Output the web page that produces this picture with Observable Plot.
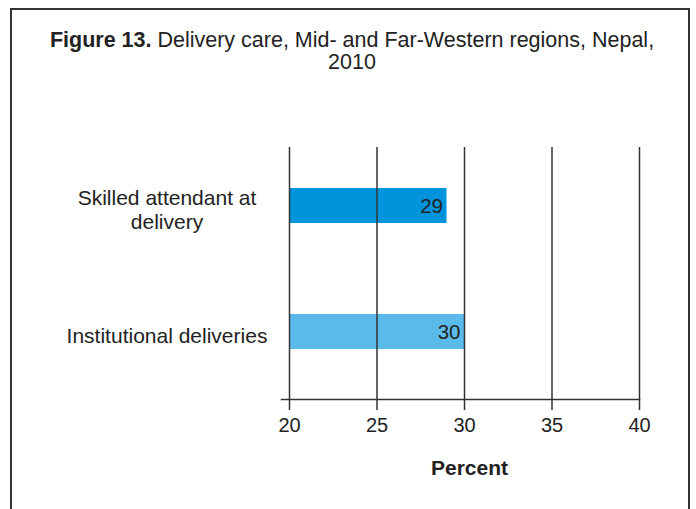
<!DOCTYPE html>
<html>
<head>
<meta charset="utf-8">
<script src="https://cdn.jsdelivr.net/npm/d3@7"></script>
<script src="https://cdn.jsdelivr.net/npm/@observablehq/plot@0.6"></script>
<style>
  html, body { margin: 0; padding: 0; background: #fff; }
  body { width: 696px; height: 509px; position: relative; overflow: hidden; font-family: "Liberation Sans", Arial, sans-serif; }
  #frame { position: absolute; left: 10px; top: 8px; width: 680px; height: 530px; border: 2px solid #333; border-bottom: none; box-sizing: border-box; }
  #title { position: absolute; left: 0; top: 29px; width: 704px; text-align: center; font-size: 21.5px; line-height: 22px; color: #222; }
  #title b { font-weight: bold; }
  #chart { position: absolute; left: 0; top: 85px; }
</style>
</head>
<body>
<div id="frame"></div>
<div id="title"><b>Figure 13.</b> Delivery care, Mid- and Far-Western regions, Nepal,<br>2010</div>
<div id="chart"></div>
<script>
const categories = ["Skilled attendant at\ndelivery", "Institutional deliveries"];
const values = [29, 30];
const colors = ["#0094DC", "#5ABAEA"];
const xTicks = [20, 25, 30, 35, 40];
const xLabel = "Percent";

const data = categories.map((c, i) => ({category: c, value: values[i], color: colors[i]}));
const base = xTicks[0];

const chart = Plot.plot({
  width: 696,
  height: 424,
  marginTop: 62,
  marginBottom: 110,
  marginLeft: 281,
  marginRight: 57,
  style: {fontFamily: "'Liberation Sans', Arial, sans-serif", color: "#222", background: "transparent"},
  x: {domain: [xTicks[0], xTicks[xTicks.length - 1]], insetLeft: 8},
  y: {domain: categories, paddingInner: 0.72, paddingOuter: 0.354, align: 0.456},
  marks: [
    Plot.barX(data, {y: "category", x1: () => base, x2: "value", fill: "color"}),
    Plot.gridX(xTicks, {stroke: "#333", strokeOpacity: 1, strokeWidth: 1.5}),
    Plot.frame({anchor: "bottom", stroke: "#333", strokeWidth: 1.5}),
    Plot.axisX({ticks: xTicks, tickSize: 11, tickPadding: 7, fontSize: 20, stroke: "#333", strokeWidth: 1.5, label: null, tickFormat: d => String(d)}),
    Plot.axisY({tickSize: 0, tickPadding: 0, textAnchor: "middle", dx: -114.5, dy: 3, fontSize: 21, lineHeight: 1.15, label: null}),
    Plot.text(data, {y: "category", x: "value", text: d => String(d.value), textAnchor: "end", dx: -4, fontSize: 20.5, fill: "#222"}),
    Plot.text([xLabel], {frameAnchor: "bottom", dx: 9, dy: 75, fontSize: 21, fontWeight: "bold", fill: "#222"})
  ]
});
document.getElementById("chart").appendChild(chart);
</script>
</body>
</html>
